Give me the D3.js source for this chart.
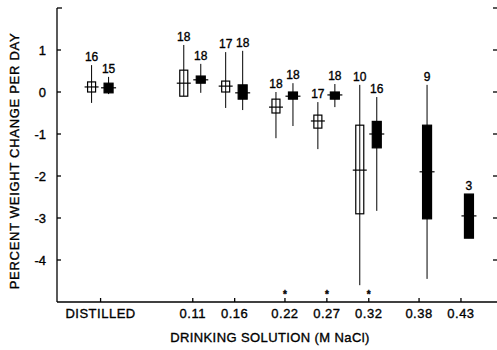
<!DOCTYPE html>
<html>
<head>
<meta charset="utf-8">
<script src="https://cdn.jsdelivr.net/npm/d3@7"></script>
<style>
  body { margin: 0; background: #fff; }
  text { font-family: "Liberation Sans", Arial, sans-serif; fill: #000; stroke: #000; stroke-width: 0.35px; }
</style>
</head>
<body>
<div id="chart"></div>
<script>
// categories along the x axis (molar NaCl), distilled = 0
const groups   = ["DISTILLED", "0.11", "0.16", "0.22", "0.27", "0.32", "0.38", "0.43"];
const molarity = [0, 0.11, 0.16, 0.22, 0.27, 0.32, 0.38, 0.43];
const starred  = ["0.22", "0.27", "0.32"];
const yTicks   = [1, 0, -1, -2, -3, -4];
const yTicksRight = [2, 1, 0, -1, -2, -3, -4];

// open boxes
const openN   = [16, 18, 17, 18, 17, 10, null, null];
const openMax = [0.64, 1.12, 0.95, 0.0, -0.24, 0.17, null, null];
const openQ3  = [0.24, 0.52, 0.26, -0.17, -0.55, -0.79, null, null];
const openMed = [0.12, 0.21, 0.14, -0.36, -0.69, -1.86, null, null];
const openQ1  = [0.0, -0.1, 0.0, -0.5, -0.86, -2.9, null, null];
const openMin = [-0.26, -0.1, -0.38, -1.1, -1.36, -4.6, null, null];

// filled boxes
const fillN   = [15, 18, 18, 18, 18, 16, 9, 3];
const fillMax = [0.36, 0.67, 0.98, 0.21, 0.19, -0.12, 0.17, -2.43];
const fillQ3  = [0.21, 0.38, 0.17, 0.0, 0.0, -0.7, -0.79, -2.43];
const fillMed = [0.1, 0.29, -0.02, -0.1, -0.07, -1.0, -1.9, -2.95];
const fillQ1  = [-0.02, 0.21, -0.17, -0.17, -0.17, -1.33, -3.02, -3.48];
const fillMin = [-0.05, -0.02, -0.43, -0.81, -0.36, -2.83, -4.45, -3.48];

const W = 497, H = 350;
const svg = d3.select("#chart").append("svg")
  .attr("width", W).attr("height", H);

const x = d3.scaleLinear().domain([-0.052, 0.473]).range([57, 497]);
const y = d3.scaleLinear().domain([-5, 2]).range([302, 8]);

// build rows
function rows(n, mx, q3, md, q1, mn, kind) {
  return groups.map((g, i) => ({
    g, m: molarity[i], n: n[i], max: mx[i], q3: q3[i], med: md[i], q1: q1[i], min: mn[i], kind
  })).filter(d => d.n != null);
}
const data = rows(openN, openMax, openQ3, openMed, openQ1, openMin, "open")
  .concat(rows(fillN, fillMax, fillQ3, fillMed, fillQ1, fillMin, "fill"));

const off = { open: -9, fill: 8 };
const bw  = { open: 8, fill: 9 };

// axes
const ax = svg.append("g").attr("stroke", "#000").attr("stroke-width", 1.3);
ax.append("line").attr("x1", x.range()[0]).attr("x2", x.range()[0])
  .attr("y1", y(2)).attr("y2", y(-5));
ax.append("line").attr("x1", x.range()[0]).attr("x2", x.range()[1])
  .attr("y1", y(-5)).attr("y2", y(-5));
ax.append("line").attr("x1", x.range()[0]).attr("x2", x.range()[0] + 5)
  .attr("y1", y(2)).attr("y2", y(2));

ax.selectAll(".yt").data(yTicks).enter().append("line")
  .attr("x1", x.range()[0]).attr("x2", x.range()[0] + 4)
  .attr("y1", d => y(d)).attr("y2", d => y(d));

ax.selectAll(".yr").data(yTicksRight).enter().append("line")
  .attr("x1", x.range()[1] - 4).attr("x2", x.range()[1])
  .attr("y1", d => y(d)).attr("y2", d => y(d));

ax.selectAll(".xt").data(molarity).enter().append("line")
  .attr("x1", d => x(d)).attr("x2", d => x(d))
  .attr("y1", y(-5)).attr("y2", y(-5) - 4);

svg.selectAll(".ylab").data(yTicks).enter().append("text")
  .attr("x", 46).attr("y", d => y(d) + 5)
  .attr("text-anchor", "end")
  .style("font-size", "13px")
  .text(d => d < 0 ? "-" + Math.abs(d) : d);

svg.selectAll(".xlab").data(groups).enter().append("text")
  .attr("x", (d, i) => x(molarity[i])).attr("y", 318)
  .attr("text-anchor", "middle")
  .style("font-size", "13px").style("letter-spacing", "0.5px")
  .text(d => d);

svg.selectAll(".star").data(starred).enter().append("text")
  .attr("x", d => x(molarity[groups.indexOf(d)])).attr("y", 298)
  .attr("text-anchor", "middle")
  .style("font-size", "10px").style("font-weight", "bold")
  .text("*");

// whiskers
svg.selectAll(".wh").data(data).enter().append("line")
  .attr("x1", d => x(d.m) + off[d.kind]).attr("x2", d => x(d.m) + off[d.kind])
  .attr("y1", d => y(d.max)).attr("y2", d => y(d.min))
  .attr("stroke", "#000").attr("stroke-width", 1);

// boxes
svg.selectAll(".box").data(data).enter().append("rect")
  .attr("x", d => x(d.m) + off[d.kind] - bw[d.kind] / 2)
  .attr("width", d => bw[d.kind])
  .attr("y", d => y(d.q3))
  .attr("height", d => Math.max(y(d.q1) - y(d.q3), 1))
  .attr("fill", d => d.kind === "fill" ? "#000" : "none")
  .attr("stroke", "#000").attr("stroke-width", 1.2);

// median bars, sticking out of the box a little
svg.selectAll(".med").data(data).enter().append("line")
  .attr("x1", d => x(d.m) + off[d.kind] - bw[d.kind] / 2 - 3)
  .attr("x2", d => x(d.m) + off[d.kind] + bw[d.kind] / 2 + 3)
  .attr("y1", d => y(d.med)).attr("y2", d => y(d.med))
  .attr("stroke", "#000").attr("stroke-width", 1.2);

// sample sizes
svg.selectAll(".n").data(data).enter().append("text")
  .attr("x", d => x(d.m) + off[d.kind]).attr("y", d => y(d.max) - 4)
  .attr("text-anchor", "middle")
  .style("font-size", "12px")
  .text(d => d.n);

// axis titles
svg.append("text")
  .attr("x", 270).attr("y", 342)
  .attr("text-anchor", "middle")
  .style("font-size", "13px").style("letter-spacing", "0.4px")
  .text("DRINKING SOLUTION (M NaCl)");

svg.append("text")
  .attr("transform", "translate(19,161) rotate(-90)")
  .attr("text-anchor", "middle")
  .style("font-size", "13px").style("letter-spacing", "0.7px")
  .text("PERCENT WEIGHT CHANGE PER DAY");
</script>
</body>
</html>
